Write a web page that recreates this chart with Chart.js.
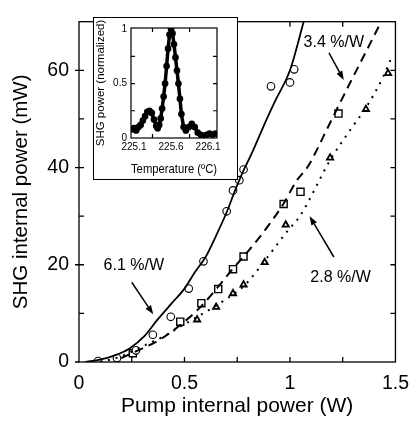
<!DOCTYPE html>
<html>
<head>
<meta charset="utf-8">
<script src="https://cdn.jsdelivr.net/npm/chart.js@4.4.1/dist/chart.umd.min.js"></script>
<style>
  html, body { margin: 0; padding: 0; background: #fff; }
  #wrap { position: relative; width: 419px; height: 426px; }
  #mainCanvas { position: absolute; left: 0; top: 0; }
  #insetBox { position: absolute; left: 93px; top: 17px; width: 143px; height: 161px;
    border: 1.5px solid #000; background: #fff; }
  #insetCanvas { position: absolute; left: 0; top: 0; }
</style>
</head>
<body>
<div id="wrap">
  <canvas id="mainCanvas" width="419" height="426"></canvas>
  <div id="insetBox"><canvas id="insetCanvas" width="143" height="161"></canvas></div>
</div>
<script>
// measured points (pump power W, SHG mW)
const circleX = [0.09, 0.18, 0.27, 0.35, 0.435, 0.52, 0.59, 0.70, 0.73, 0.76, 0.78, 0.91, 1.00, 1.02];
const circleY = [0.2, 0.8, 2.4, 5.6, 9.3, 15.1, 20.7, 31, 35.3, 37.4, 39.6, 56.7, 57.5, 60.2];
const squareX = [0.255, 0.48, 0.58, 0.66, 0.73, 0.78, 0.97, 1.05, 1.23];
const squareY = [1.8, 8.3, 12.1, 15, 19.1, 21.7, 32.5, 35, 51.1];
const triX = [0.56, 0.65, 0.73, 0.78, 0.88, 0.98, 1.19, 1.36, 1.465];
const triY = [8.7, 11.3, 14.1, 15.9, 20.5, 28.2, 42, 52, 59.4];

// fit curves
const solidX = [0.03, 0.1, 0.16, 0.24, 0.31, 0.37, 0.44, 0.5, 0.55, 0.6, 0.65, 0.7, 0.74, 0.78, 0.82, 0.88, 0.93, 1.0, 1.065];
const solidY = [0, 0.5, 1.2, 2.8, 5.3, 8.6, 12.1, 15.1, 18.5, 21.6, 26, 30.8, 35.3, 39.4, 43, 49, 53.7, 60, 70];
const dashX = [0.2, 0.27, 0.375, 0.48, 0.58, 0.66, 0.73, 0.81, 0.9, 0.97, 1.03, 1.085, 1.18, 1.28, 1.36, 1.43];
const dashY = [0.8, 2.2, 4.4, 7.6, 11.5, 15.5, 19.2, 23.2, 28.2, 32.6, 37.2, 40.2, 48.3, 57, 63.8, 69.8];
const dotX = [0.1, 0.19, 0.31, 0.39, 0.47, 0.6, 0.7, 0.79, 0.88, 0.98, 1.05, 1.19, 1.29, 1.36, 1.44, 1.48];
const dotY = [0, 1, 3.4, 5, 7, 10.3, 13, 16, 20.8, 26.5, 30.2, 41.5, 48, 52.3, 58.5, 62.5];

// labels with arrows: text pos, arrow tail, arrow head (data coords)
const noteText = ['6.1 %/W', '3.4 %/W', '2.8 %/W'];
const notePos = [[0.26, 19.8], [1.208, 65.8], [1.24, 17.4]];
const noteFrom = [[0.25, 16.4], [1.185, 63.6], [1.208, 21.6]];
const noteTo = [[0.352, 9.8], [1.255, 58], [1.093, 30]];

// inset: temperature tuning curve
const tempC = [225.07, 225.1, 225.13, 225.16, 225.19, 225.22, 225.25, 225.28, 225.31, 225.34, 225.37,
  225.4, 225.42, 225.44, 225.46, 225.48, 225.5, 225.52, 225.54, 225.56, 225.58, 225.6, 225.62,
  225.64, 225.66, 225.68, 225.7, 225.72, 225.74, 225.77, 225.8, 225.84, 225.88, 225.92, 225.96,
  226.0, 226.04, 226.08, 226.12, 226.16, 226.2];
const shgNorm = [0.08, 0.09, 0.07, 0.1, 0.12, 0.16, 0.2, 0.24, 0.25, 0.23, 0.17,
  0.11, 0.09, 0.12, 0.18, 0.27, 0.38, 0.5, 0.66, 0.82, 0.95, 1.0, 0.96,
  0.86, 0.74, 0.62, 0.5, 0.36, 0.22, 0.1, 0.07, 0.1, 0.13, 0.1, 0.05,
  0.03, 0.02, 0.03, 0.04, 0.03, 0.04];
const insetTicks = [225.1, 225.6, 226.1];

function pts(xs, ys) {
    return xs.map((x, i) => ({x: x, y: ys[i]}));
}

const FONT = 'Liberation Sans, Arial, sans-serif';

// box + inward ticks
const framePlugin = {
    id: 'frame',
    afterDraw(chart, args, opts) {
        let ctx = chart.ctx;
        let a = chart.chartArea;
        let xs = chart.scales.x, ys = chart.scales.y;
        ctx.save();
        ctx.strokeStyle = '#000';
        ctx.lineWidth = opts.lw;
        ctx.strokeRect(a.left, a.top, a.right - a.left, a.bottom - a.top);
        let L = opts.len;
        ctx.beginPath();
        opts.xt.forEach(v => {
            let p = xs.getPixelForValue(v);
            ctx.moveTo(p, a.bottom); ctx.lineTo(p, a.bottom - L);
            ctx.moveTo(p, a.top); ctx.lineTo(p, a.top + L);
        });
        opts.yt.forEach(v => {
            let p = ys.getPixelForValue(v);
            ctx.moveTo(a.left, p); ctx.lineTo(a.left + L, p);
            ctx.moveTo(a.right, p); ctx.lineTo(a.right - L, p);
        });
        (opts.yOut || []).forEach(v => {
            let p = ys.getPixelForValue(v);
            ctx.moveTo(a.left - 4, p); ctx.lineTo(a.left, p);
        });
        ctx.stroke();
        ctx.restore();
    }
};

const notesPlugin = {
    id: 'notes',
    afterDatasetsDraw(chart) {
        let ctx = chart.ctx;
        let xs = chart.scales.x, ys = chart.scales.y;
        ctx.save();
        ctx.fillStyle = '#000';
        ctx.strokeStyle = '#000';
        ctx.font = '16px ' + FONT;
        ctx.textAlign = 'center';
        ctx.textBaseline = 'middle';
        for (let i = 0; i < noteText.length; i++) {
            ctx.fillText(noteText[i], xs.getPixelForValue(notePos[i][0]), ys.getPixelForValue(notePos[i][1]));
            let x1 = xs.getPixelForValue(noteFrom[i][0]), y1 = ys.getPixelForValue(noteFrom[i][1]);
            let x2 = xs.getPixelForValue(noteTo[i][0]), y2 = ys.getPixelForValue(noteTo[i][1]);
            let ang = Math.atan2(y2 - y1, x2 - x1);
            let hl = 9, hw = 3.2;
            let bx = x2 - hl * Math.cos(ang), by = y2 - hl * Math.sin(ang);
            ctx.lineWidth = 1.5;
            ctx.beginPath();
            ctx.moveTo(x1, y1);
            ctx.lineTo(bx, by);
            ctx.stroke();
            ctx.beginPath();
            ctx.moveTo(x2, y2);
            ctx.lineTo(bx + hw * Math.sin(ang), by - hw * Math.cos(ang));
            ctx.lineTo(bx - hw * Math.sin(ang), by + hw * Math.cos(ang));
            ctx.closePath();
            ctx.fill();
        }
        ctx.restore();
    }
};

let mainChart = new Chart(document.getElementById('mainCanvas'), {
    type: 'scatter',
    data: {
        datasets: [
            {data: pts(solidX, solidY), showLine: true, borderColor: '#000', borderWidth: 1.8,
             pointRadius: 0, cubicInterpolationMode: 'monotone', fill: false},
            {data: pts(dashX, dashY), showLine: true, borderColor: '#000', borderWidth: 2,
             borderDash: [9, 6], pointRadius: 0, cubicInterpolationMode: 'monotone', fill: false},
            {data: pts(dotX, dotY), showLine: true, borderColor: '#000', borderWidth: 2,
             borderDash: [2, 6], pointRadius: 0, cubicInterpolationMode: 'monotone', fill: false},
            {data: pts(circleX, circleY), pointStyle: 'circle', pointRadius: 3.8,
             pointBackgroundColor: '#fff', pointBorderColor: '#000', pointBorderWidth: 1.1},
            {data: pts(squareX, squareY), pointStyle: 'rect', pointRadius: 5,
             pointBackgroundColor: '#fff', pointBorderColor: '#000', pointBorderWidth: 1.4},
            {data: pts(triX, triY), pointStyle: 'triangle', pointRadius: 3.6,
             pointBackgroundColor: '#fff', pointBorderColor: '#000', pointBorderWidth: 1.8}
        ]
    },
    options: {
        responsive: false,
        animation: false,
        layout: {padding: {left: 0, top: 12, right: 17, bottom: 0}},
        plugins: {
            legend: {display: false},
            tooltip: {enabled: false},
            frame: {lw: 1.3, len: 5, xt: [0.25, 0.5, 0.75, 1, 1.25],
                    yt: [10, 20, 30, 40, 50, 60], yOut: [0, 20, 40, 60]}
        },
        scales: {
            x: {
                type: 'linear', min: 0, max: 1.5,
                grid: {display: true, drawOnChartArea: false, drawTicks: false},
                border: {display: false},
                afterBuildTicks: s => { s.ticks = [0, 0.5, 1, 1.5].map(v => ({value: v})); },
                ticks: {color: '#000', font: {family: FONT, size: 19.5}, padding: 10, maxRotation: 0,
                        callback: v => String(v)},
                title: {display: true, text: 'Pump internal power (W)', color: '#000',
                        font: {family: FONT, size: 21}, padding: {top: 4, bottom: 7}},
                afterFit: s => { s.height = 64; }
            },
            y: {
                type: 'linear', min: 0, max: 70,
                grid: {display: true, drawOnChartArea: false, drawTicks: false},
                border: {display: false},
                afterBuildTicks: s => { s.ticks = [0, 20, 40, 60].map(v => ({value: v})); },
                ticks: {color: '#000', font: {family: FONT, size: 19.5}, padding: 10,
                        callback: v => String(v)},
                title: {display: true, text: 'SHG internal power (mW)', color: '#000',
                        font: {family: FONT, size: 20.5}, padding: {top: 9, bottom: 4}},
                afterFit: s => { s.width = 79; }
            }
        }
    },
    plugins: [framePlugin, notesPlugin]
});

let insetChart = new Chart(document.getElementById('insetCanvas'), {
    type: 'scatter',
    data: {
        datasets: [{
            data: pts(tempC, shgNorm), showLine: true, borderColor: '#000', borderWidth: 3.5,
            pointRadius: 1.6, pointBackgroundColor: '#000', pointBorderColor: '#000', fill: false
        }]
    },
    options: {
        responsive: false,
        animation: false,
        layout: {padding: {left: 0, top: 6, right: 20, bottom: 0}},
        plugins: {
            legend: {display: false},
            tooltip: {enabled: false},
            frame: {lw: 1.2, len: 4, xt: [225.35, 225.85], yt: [0.25, 0.5, 0.75]}
        },
        scales: {
            x: {
                type: 'linear', min: 225.06, max: 226.22,
                grid: {display: true, drawOnChartArea: false, drawTicks: false},
                border: {display: false},
                afterBuildTicks: s => { s.ticks = insetTicks.map(v => ({value: v})); },
                ticks: {color: '#000', font: {family: FONT, size: 10}, padding: 3, maxRotation: 0,
                        callback: v => v.toFixed(1)},
                title: {display: true, text: 'Temperature (ºC)', color: '#000',
                        font: {family: FONT, size: 12}, padding: {top: 0, bottom: 2}},
                afterFit: s => { s.height = 41; }
            },
            y: {
                type: 'linear', min: 0, max: 1.01,
                grid: {display: true, drawOnChartArea: false, drawTicks: false},
                border: {display: false},
                afterBuildTicks: s => { s.ticks = [0, 0.5, 1].map(v => ({value: v})); },
                ticks: {color: '#000', font: {family: FONT, size: 10}, padding: 4,
                        callback: v => String(v)},
                title: {display: true, text: 'SHG power (normalized)', color: '#000',
                        font: {family: FONT, size: 11.5}, padding: {top: 0, bottom: 0}},
                afterFit: s => { s.width = 37; }
            }
        }
    },
    plugins: [framePlugin]
});
</script>
</body>
</html>
